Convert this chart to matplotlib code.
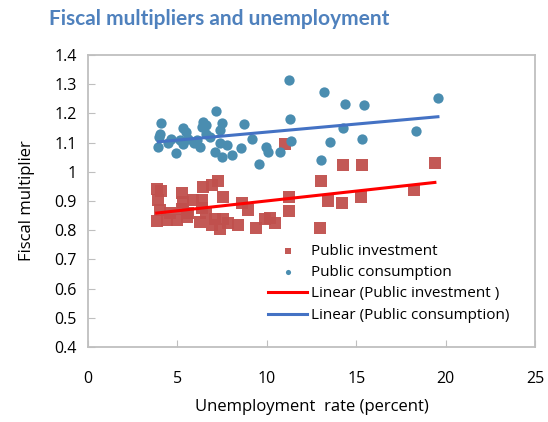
import numpy as np
import matplotlib
matplotlib.use("Agg")
import matplotlib.pyplot as plt

# ---- datos ----
inv_x = [3.84, 3.93, 4.02, 3.84, 4.10, 4.40, 4.60, 4.95, 5.23, 5.32, 5.23, 5.51,
         5.60, 5.88, 6.35, 6.35, 6.41, 6.60, 6.91, 7.28, 7.56, 6.26, 6.91, 7.10,
         7.37, 7.84, 7.56, 8.40, 8.59, 8.96, 9.42, 9.89, 10.45, 10.17, 11.04,
         11.23, 11.23, 13.02, 12.96, 13.45, 14.19, 14.26, 15.35, 15.27, 18.25, 19.40]
inv_y = [0.940, 0.903, 0.869, 0.833, 0.935, 0.835, 0.860, 0.835, 0.926, 0.898,
         0.872, 0.846, 0.860, 0.903, 0.903, 0.875, 0.949, 0.860, 0.955, 0.970,
         0.915, 0.829, 0.818, 0.840, 0.803, 0.824, 0.837, 0.818, 0.894, 0.869,
         0.806, 0.837, 0.826, 0.842, 1.095, 0.915, 0.867, 0.968, 0.806, 0.901,
         0.892, 1.023, 1.023, 0.913, 0.938, 1.029]

cons_x = [4.08, 4.02, 3.93, 3.95, 4.50, 4.62, 4.92, 5.14, 5.30, 5.32, 5.47, 5.60,
          5.90, 6.10, 6.26, 6.35, 6.44, 6.59, 6.60, 6.80, 7.09, 7.15, 7.37, 7.40,
          7.52, 7.52, 7.75, 8.03, 8.55, 8.72, 9.15, 9.55, 9.98, 10.05, 10.73,
          11.23, 13.18, 14.36, 15.44, 19.57, 11.28, 14.26, 18.32, 11.38, 13.52,
          15.35, 13.02]
cons_y = [1.168, 1.130, 1.084, 1.120, 1.100, 1.112, 1.065, 1.109, 1.095, 1.149,
          1.137, 1.112, 1.100, 1.110, 1.084, 1.154, 1.172, 1.129, 1.160, 1.120,
          1.069, 1.208, 1.143, 1.100, 1.168, 1.052, 1.092, 1.058, 1.080, 1.163,
          1.111, 1.026, 1.084, 1.068, 1.069, 1.314, 1.273, 1.233, 1.228, 1.254,
          1.182, 1.151, 1.141, 1.107, 1.101, 1.111, 1.040]

xticks = [0, 5, 10, 15, 20, 25]
yticks = [0.4, 0.5, 0.6, 0.7, 0.8, 0.9, 1.0, 1.1, 1.2, 1.3, 1.4]
ylabels = ["0.4", "0.5", "0.6", "0.7", "0.8", "0.9", "1", "1.1", "1.2", "1.3", "1.4"]

RED = "#C0504D"
BLUE = "#4A8DB0"
GRAY = "#BFBFBF"

plt.rcParams['font.family'] = ['Open Sans', 'DejaVu Sans']

fig = plt.figure(figsize=(5.48, 4.22), dpi=100)
ax = fig.add_axes([0.1606, 0.1777, 0.8157, 0.692])

sc_inv = ax.scatter(inv_x, inv_y, marker='s', s=80, color=RED, alpha=0.95,
                    linewidths=0, label='Public investment', zorder=2)
sc_cons = ax.scatter(cons_x, cons_y, marker='o', s=55, color=BLUE,
                     linewidths=0, label='Public consumption', zorder=2)

# tendencias lineales
handles = [sc_inv, sc_cons]
for xs, ys, col, lab in [(inv_x, inv_y, "#FF0000", "Linear (Public investment )"),
                         (cons_x, cons_y, "#4472C4", "Linear (Public consumption)")]:
    k, b = np.polyfit(xs, ys, 1)
    xl = np.array([min(xs), max(xs)])
    ln, = ax.plot(xl, k * xl + b, color=col, lw=2.2, label=lab, zorder=3)
    handles.append(ln)

ax.set_xlim(0, 25)
ax.set_ylim(0.4, 1.4)
ax.set_xticks(xticks)
ax.set_yticks(yticks)
ax.set_yticklabels(ylabels)
ax.tick_params(direction='in', length=5, color=GRAY, labelsize=11.5, pad=8)
ax.tick_params(axis='x', pad=17)
for sp in ax.spines.values():
    sp.set_color(GRAY)
    sp.set_linewidth(1.3)

ax.set_xlabel("Unemployment  rate (percent)", fontsize=12, labelpad=9)
ax.set_ylabel("Fiscal multiplier", fontsize=12, labelpad=14)

leg = ax.legend(handles, [h.get_label() for h in handles],
                loc='upper left', bbox_to_anchor=(0.39, 0.375), frameon=False,
                fontsize=11, handlelength=2.5, handletextpad=0.3,
                labelspacing=0.42, borderaxespad=0, markerscale=0.5)

fig.text(0.09, 0.955, "Fiscal multipliers and unemployment", fontsize=15,
         fontweight='bold', color="#4F81BD", family=['Lato', 'DejaVu Sans'],
         va='center', ha='left')

fig.savefig("out.png", dpi=100)
